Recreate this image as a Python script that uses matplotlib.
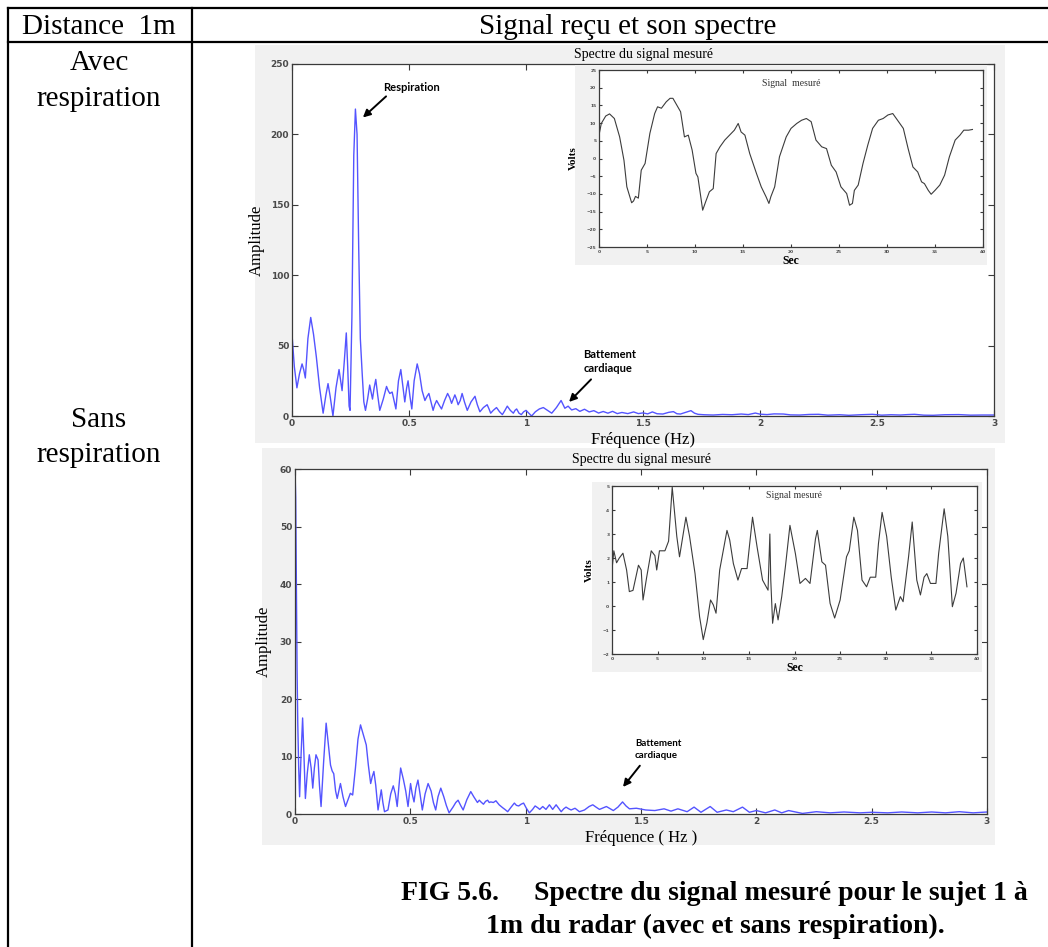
import matplotlib
matplotlib.use("Agg")
import matplotlib.pyplot as plt
from matplotlib.lines import Line2D
from matplotlib.patches import Rectangle

# ---------------------------------------------------------------- data
# Spectrum, with breathing (Hz, amplitude)
freq_avec = [0.000, 0.010, 0.021, 0.032, 0.043, 0.050, 0.057, 0.068, 0.080, 0.092,
             0.104, 0.118, 0.133, 0.145, 0.154, 0.163, 0.175, 0.188, 0.201, 0.208,
             0.214, 0.224, 0.232, 0.238, 0.244, 0.248, 0.256, 0.264, 0.271, 0.278,
             0.285, 0.292, 0.300, 0.307, 0.314, 0.323, 0.332, 0.338, 0.344, 0.351,
             0.358, 0.366, 0.375, 0.390, 0.404, 0.411, 0.418, 0.428, 0.436, 0.444,
             0.455, 0.465, 0.473, 0.482, 0.490, 0.496, 0.504, 0.512, 0.522, 0.535,
             0.545, 0.556, 0.568, 0.577, 0.585, 0.594, 0.603, 0.610, 0.618, 0.628,
             0.639, 0.652, 0.665, 0.674, 0.682, 0.689, 0.696, 0.703, 0.710, 0.719,
             0.727, 0.737, 0.749, 0.765, 0.782, 0.792, 0.803, 0.818, 0.834, 0.842,
             0.849, 0.860, 0.874, 0.887, 0.899, 0.910, 0.920, 0.933, 0.946, 0.953,
             0.960, 0.970, 0.980, 0.990, 1.000, 1.012, 1.024, 1.040, 1.057, 1.074,
             1.092, 1.110, 1.130, 1.150, 1.166, 1.180, 1.195, 1.213, 1.230, 1.250,
             1.270, 1.290, 1.310, 1.330, 1.350, 1.370, 1.390, 1.410, 1.435, 1.460,
             1.480, 1.500, 1.520, 1.540, 1.560, 1.585, 1.610, 1.630, 1.645, 1.660,
             1.680, 1.705, 1.720, 1.735, 1.760, 1.800, 1.840, 1.880, 1.920, 1.950,
             1.980, 2.000, 2.030, 2.060, 2.100, 2.130, 2.170, 2.210, 2.250, 2.290,
             2.340, 2.380, 2.430, 2.480, 2.520, 2.560, 2.600, 2.630, 2.660, 2.700,
             2.740, 2.790, 2.850, 2.900, 2.950, 3.000]
amp_avec = [58, 35, 20, 30, 37, 33, 27, 55, 70, 58,
            42, 20, 2, 15, 23, 14, 0, 20, 33, 25,
            18, 40, 59, 35, 7, 4, 70, 185, 218, 200,
            120, 55, 30, 10, 4, 12, 22, 17, 12, 20,
            26, 15, 4, 12, 21, 18, 16, 17, 11, 5,
            25, 33, 22, 10, 20, 25, 14, 5, 25, 37,
            30, 18, 11, 14, 16, 10, 4, 8, 11, 8,
            5, 11, 16, 13, 9, 12, 15, 12, 8, 11,
            16, 10, 4, 10, 14, 8, 3, 6, 8, 5,
            2, 4, 6, 3, 1, 4, 7, 4, 2, 4,
            5, 2, 1, 3, 4, 2, 0, 3, 5, 6,
            4, 2, 6, 11, 5.5, 7, 4.3, 5.2, 3.3, 4.8,
            2.9, 3.8, 2.1, 3.2, 2.0, 3.3, 1.7, 2.5, 1.7, 2.9,
            1.7, 2.2, 1.5, 2.9, 1.6, 1.4, 2.6, 3.1, 1.6, 1.4,
            2.5, 3.8, 2.0, 1.2, 0.9, 0.7, 1.1, 0.9, 1.4, 1.0,
            2.1, 1.3, 1.0, 1.5, 1.4, 0.8, 0.7, 1.1, 1.2, 0.6,
            0.9, 0.5, 0.9, 1.2, 0.6, 0.9, 0.7, 1.0, 1.2, 0.6,
            0.5, 0.9, 1.0, 0.6, 0.7, 0.7]

# Spectrum, breath held (Hz, amplitude)
freq_sans = [0.000, 0.003, 0.006, 0.009, 0.012, 0.016, 0.020, 0.026, 0.033, 0.039,
             0.045, 0.053, 0.062, 0.070, 0.077, 0.084, 0.091, 0.100, 0.106, 0.113,
             0.124, 0.135, 0.145, 0.154, 0.161, 0.168, 0.176, 0.183, 0.190, 0.197,
             0.208, 0.219, 0.230, 0.240, 0.250, 0.262, 0.273, 0.284, 0.296, 0.309,
             0.318, 0.328, 0.335, 0.342, 0.350, 0.360, 0.367, 0.374, 0.381, 0.388,
             0.403, 0.415, 0.426, 0.435, 0.443, 0.451, 0.458, 0.464, 0.470, 0.480,
             0.490, 0.496, 0.501, 0.508, 0.516, 0.524, 0.533, 0.542, 0.552, 0.564,
             0.577, 0.590, 0.600, 0.610, 0.620, 0.632, 0.645, 0.656, 0.668, 0.685,
             0.697, 0.707, 0.718, 0.729, 0.745, 0.762, 0.775, 0.791, 0.799, 0.806,
             0.817, 0.826, 0.835, 0.842, 0.849, 0.860, 0.871, 0.885, 0.900, 0.910,
             0.922, 0.937, 0.951, 0.960, 0.970, 0.980, 0.991, 1.003, 1.016, 1.030,
             1.041, 1.052, 1.061, 1.074, 1.088, 1.103, 1.117, 1.132, 1.143, 1.154,
             1.165, 1.175, 1.187, 1.197, 1.214, 1.233, 1.255, 1.275, 1.291, 1.305,
             1.320, 1.350, 1.380, 1.400, 1.420, 1.435, 1.450, 1.480, 1.520, 1.560,
             1.600, 1.630, 1.660, 1.700, 1.730, 1.760, 1.800, 1.830, 1.870, 1.900,
             1.940, 1.970, 2.000, 2.040, 2.080, 2.110, 2.140, 2.200, 2.260, 2.320,
             2.380, 2.450, 2.500, 2.570, 2.630, 2.700, 2.760, 2.820, 2.880, 2.940,
             3.000]
amp_sans = [60, 55, 39, 25, 15.8, 8, 3, 10, 16.7, 10,
            2.7, 7, 10.3, 8, 4.5, 8, 10.3, 9.4, 5, 1.3,
            9, 15.8, 12, 8.5, 7.5, 7, 4, 2.7, 4, 5.3,
            3, 1.3, 2.5, 3.6, 3.3, 8, 13, 15.5, 13.8, 12,
            8.5, 5.3, 6.5, 7.4, 5, 0.7, 2.5, 4.2, 2, 0.4,
            0.7, 3.5, 4.9, 3.5, 1.3, 5, 8, 7, 6, 4,
            1.3, 3.5, 5.3, 3.5, 2.1, 4.5, 5.9, 3.5, 0.7, 3.5,
            5.3, 4, 2, 0.7, 3, 4.5, 3, 1.5, 0.2, 1.2,
            2, 2.4, 1.5, 0.7, 2.5, 3.9, 3, 2, 2.4, 2.1,
            1.7, 2.2, 2.4, 2.0, 2.1, 2.0, 2.3, 1.6, 1.1, 0.8,
            0.4, 1.2, 1.9, 1.5, 1.4, 1.7, 1.9, 1.0, 0.2, 0.8,
            1.4, 1.1, 0.8, 1.3, 0.8, 1.6, 0.8, 1.6, 1.0, 0.4,
            0.9, 1.2, 0.9, 0.7, 1.0, 0.4, 0.7, 1.3, 1.6, 1.2,
            0.8, 1.3, 0.6, 1.2, 2.1, 1.4, 0.9, 1.0, 0.7, 0.6,
            0.9, 0.5, 0.9, 0.4, 1.2, 0.3, 1.3, 0.3, 0.7, 0.4,
            1.2, 0.3, 0.6, 0.2, 0.7, 0.2, 0.6, 0.1, 0.4, 0.2,
            0.35, 0.2, 0.3, 0.2, 0.35, 0.2, 0.35, 0.2, 0.4, 0.2,
            0.35]

# Time signal, with breathing (s, V)
t_avec = [0.0, 0.24, 0.7, 1.1, 1.6, 2.15, 2.6, 2.9, 3.4, 3.6,
          3.8, 4.1, 4.4, 4.8, 5.3, 5.8, 6.1, 6.5, 7.0, 7.4,
          7.7, 8.1, 8.5, 8.9, 9.3, 9.7, 10.1, 10.3, 10.6, 10.8,
          11.1, 11.5, 11.9, 12.2, 12.6, 13.1, 13.6, 14.1, 14.5, 14.8,
          15.2, 15.7, 16.4, 16.9, 17.4, 17.7, 17.9, 18.3, 18.8, 19.5,
          20.0, 20.6, 21.1, 21.6, 22.1, 22.6, 23.2, 23.7, 24.2, 24.7,
          25.2, 25.8, 26.1, 26.4, 26.6, 27.0, 27.5, 28.0, 28.5, 29.1,
          29.6, 30.1, 30.6, 31.1, 31.7, 32.2, 32.7, 33.2, 33.6, 33.9,
          34.3, 34.6, 35.0, 35.5, 36.0, 36.5, 37.1, 37.6, 38.0, 38.5,
          38.9]
v_avec = [6.6, 9.9, 12.0, 12.6, 11.3, 6.1, -0.5, -8.0, -12.5, -12.0,
          -10.7, -11.2, -3.3, -1.4, 7.1, 12.7, 14.6, 14.2, 16.0, 17.0,
          17.0, 15.1, 13.2, 6.1, 6.6, 2.4, -4.2, -5.2, -10.8, -14.6,
          -12.3, -9.4, -8.5, 1.4, 3.3, 5.2, 6.6, 8.0, 9.9, 7.5,
          6.6, 1.4, -4.2, -8.0, -10.8, -12.7, -10.8, -8.0, 0.5, 6.1,
          8.5, 9.9, 10.8, 11.3, 10.4, 5.2, 3.3, 2.8, -1.9, -3.8,
          -8.0, -9.9, -13.2, -12.7, -9.0, -7.5, -1.4, 3.8, 8.5, 10.8,
          11.3, 12.3, 12.7, 10.8, 8.5, 2.8, -2.4, -3.8, -6.6, -7.1,
          -9.0, -10.1, -9.0, -7.5, -4.7, 0.5, 5.2, 6.6, 8.0, 8.0,
          8.2]

# Time signal, breath held (s, V)
t_sans = [0.0, 0.2, 0.5, 0.8, 1.2, 1.6, 1.9, 2.3, 2.9, 3.2,
          3.4, 3.8, 4.3, 4.7, 4.9, 5.2, 5.8, 6.2, 6.6, 7.1,
          7.4, 8.1, 8.5, 9.1, 9.6, 10.0, 10.4, 10.8, 11.1, 11.4,
          11.8, 12.6, 12.9, 13.3, 13.8, 14.2, 14.8, 15.4, 15.9, 16.5,
          17.1, 17.3, 17.4, 17.6, 17.9, 18.2, 18.6, 19.0, 19.5, 20.1,
          20.6, 21.2, 21.7, 22.3, 22.5, 23.0, 23.4, 23.9, 24.4, 25.0,
          25.7, 26.0, 26.5, 26.9, 27.4, 27.9, 28.3, 28.9, 29.2, 29.6,
          30.1, 30.6, 31.1, 31.6, 31.9, 32.5, 32.9, 33.4, 33.8, 34.2,
          34.5, 34.9, 35.5, 35.8, 36.4, 36.8, 37.3, 37.7, 38.2, 38.5,
          38.9]
v_sans = [1.5, 2.3, 1.8, 2.0, 2.2, 1.5, 0.6, 0.65, 1.7, 1.5,
          0.25, 1.2, 2.3, 2.1, 1.5, 2.3, 2.3, 2.7, 4.95, 2.9,
          2.05, 3.7, 2.9, 1.35, -0.45, -1.4, -0.7, 0.25, 0.05, -0.3,
          1.5, 3.15, 2.75, 1.77, 1.08, 1.56, 1.56, 3.7, 2.46, 1.08,
          0.66, 3.0, 1.08, -0.72, 0.1, -0.58, 0.39, 1.63, 3.36, 2.18,
          0.94, 1.15, 0.94, 2.8, 3.15, 1.84, 1.7, 0.11, -0.5, 0.25,
          2.05, 2.3, 3.7, 3.15, 1.08, 0.8, 1.2, 1.2, 2.6, 3.9,
          2.9, 1.2, -0.17, 0.39, 0.18, 2.05, 3.5, 1.08, 0.46, 1.2,
          1.35, 0.94, 0.94, 2.2, 4.05, 2.9, -0.03, 0.53, 1.77, 2.0,
          0.8]

freq_ticks = [0, 0.5, 1, 1.5, 2, 2.5, 3]
freq_labels = ["0", "0.5", "1", "1.5", "2", "2.5", "3"]
amp_ticks_avec = [0, 50, 100, 150, 200, 250]
amp_ticks_sans = [0, 10, 20, 30, 40, 50, 60]
sec_ticks = [0, 5, 10, 15, 20, 25, 30, 35, 40]
volt_ticks_avec = [-25, -20, -15, -10, -5, 0, 5, 10, 15, 20, 25]
volt_ticks_sans = [-2, -1, 0, 1, 2, 3, 4, 5]

# ---------------------------------------------------------------- layout helpers
W, H = 1048, 947
fig = plt.figure(figsize=(W / 100, H / 100), dpi=100)
fig.patch.set_facecolor("white")

SERIF = "Liberation Serif"
SPEC_BLUE = "#5454ff"
PANEL = "#f1f1f1"


def rect(x0, y0, x1, y1):
    return [x0 / W, 1 - y1 / H, (x1 - x0) / W, (y1 - y0) / H]


def fx(x):
    return x / W


def fy(y):
    return 1 - y / H


def panel(x0, y0, x1, y1, z):
    fig.add_artist(Rectangle((x0 / W, 1 - y1 / H), (x1 - x0) / W, (y1 - y0) / H,
                             transform=fig.transFigure, fc=PANEL, ec="none", zorder=z))


def hline(y, x0, x1, lw=1.6):
    fig.add_artist(Line2D([fx(x0), fx(x1)], [fy(y), fy(y)], color="black", lw=lw))


def vline(x, y0, y1, lw=1.6):
    fig.add_artist(Line2D([fx(x), fx(x)], [fy(y0), fy(y1)], color="black", lw=lw))


def style_axes(ax, labelsize, ticklen):
    for s in ax.spines.values():
        s.set_color("#3a3a3a")
        s.set_linewidth(0.9)
    ax.tick_params(direction="in", top=True, right=True, length=ticklen, width=0.8,
                   labelsize=labelsize, labelcolor="#4a4a4a", color="#3a3a3a", pad=2)
    for lab in ax.get_xticklabels() + ax.get_yticklabels():
        lab.set_fontweight("bold")


def arrow(ax, tail, tip):
    ax.annotate("", xy=tip, xytext=tail,
                arrowprops=dict(arrowstyle="-|>", color="black", lw=1.4,
                                mutation_scale=11, shrinkA=0, shrinkB=0))


def note(ax, pos, text, size):
    ax.text(pos[0], pos[1], text, fontsize=size, family="Lato", fontweight="bold",
            ha="left", va="center", linespacing=1.35)


# ---------------------------------------------------------------- table frame
hline(8, 8, 1048)
hline(42, 8, 1048)
vline(8, 8, 947)
vline(192, 8, 947)

fig.text(fx(99), fy(27), "Distance  1m", family=SERIF, fontsize=21, ha="center", va="center")
fig.text(fx(628), fy(27), "Signal reçu et son spectre", family=SERIF, fontsize=21,
         ha="center", va="center")
fig.text(fx(99), fy(81), "Avec\nrespiration", family=SERIF, fontsize=21, ha="center",
         va="center", linespacing=1.45)
fig.text(fx(99), fy(437), "Sans\nrespiration", family=SERIF, fontsize=21, ha="center",
         va="center", linespacing=1.45)

fig.text(fx(714), fy(893), "FIG 5.6.     Spectre du signal mesuré pour le sujet 1 à",
         family=SERIF, fontsize=20, fontweight="bold", ha="center", va="center")
fig.text(fx(715), fy(926), "1m du radar (avec et sans respiration).",
         family=SERIF, fontsize=20, fontweight="bold", ha="center", va="center")

# ---------------------------------------------------------------- grey figure panels
# outer panels sit under the spectrum axes, inset panels between spectrum and inset axes
panel(255, 45, 1005, 443, -5)
panel(262, 448, 995, 845, -5)
panel(575, 65, 987, 265, 1)
panel(592, 482, 982, 672, 1)

# ---------------------------------------------------------------- top spectrum
ax1 = fig.add_axes(rect(292, 64, 994, 416))
ax1.set_zorder(0)
ax1.plot(freq_avec, amp_avec, color=SPEC_BLUE, lw=1.0)
ax1.set_xlim(0, 3)
ax1.set_ylim(0, 250)
ax1.set_xticks(freq_ticks, freq_labels)
ax1.set_yticks(amp_ticks_avec)
style_axes(ax1, 6.5, 4)
ax1.set_ylabel("Amplitude", family=SERIF, fontsize=12, labelpad=4)
ax1.set_xlabel("Fréquence (Hz)", family=SERIF, fontsize=12, labelpad=3)
ax1.set_title("Spectre du signal mesuré", family=SERIF, fontsize=10, pad=4)
note(ax1, (0.39, 233), "Respiration", 8)
arrow(ax1, (0.402, 227), (0.303, 212))
note(ax1, (1.245, 39), "Battement\ncardiaque", 8)
arrow(ax1, (1.278, 26), (1.184, 10))

# ---------------------------------------------------------------- top inset signal
ax2 = fig.add_axes(rect(599, 70, 983, 247))
ax2.set_zorder(2)
ax2.plot(t_avec, v_avec, color="#3c3c3c", lw=0.8)
ax2.set_xlim(0, 40)
ax2.set_ylim(-25, 25)
ax2.set_xticks(sec_ticks)
ax2.set_yticks(volt_ticks_avec)
style_axes(ax2, 3.2, 2)
ax2.set_ylabel("Volts", family=SERIF, fontsize=8, fontweight="bold", labelpad=6)
ax2.set_xlabel("Sec", family=SERIF, fontsize=8.5, fontweight="bold", labelpad=1)
ax2.text(0.5, 0.95, "Signal  mesuré", transform=ax2.transAxes, family=SERIF,
         fontsize=7, ha="center", va="top", color="#333333")

# ---------------------------------------------------------------- bottom spectrum
ax3 = fig.add_axes(rect(295, 469, 987, 814))
ax3.set_zorder(0)
ax3.plot(freq_sans, amp_sans, color=SPEC_BLUE, lw=1.0)
ax3.set_xlim(0, 3)
ax3.set_ylim(0, 60)
ax3.set_xticks(freq_ticks, freq_labels)
ax3.set_yticks(amp_ticks_sans)
style_axes(ax3, 6.5, 4)
ax3.set_ylabel("Amplitude", family=SERIF, fontsize=12, labelpad=6)
ax3.set_xlabel("Fréquence ( Hz )", family=SERIF, fontsize=12, labelpad=3)
ax3.set_title("Spectre du signal mesuré", family=SERIF, fontsize=10, pad=4)
note(ax3, (1.474, 11.2), "Battement\ncardiaque", 7)
arrow(ax3, (1.495, 8.4), (1.422, 4.7))

# ---------------------------------------------------------------- bottom inset signal
ax4 = fig.add_axes(rect(612, 486, 977, 654))
ax4.set_zorder(2)
ax4.plot(t_sans, v_sans, color="#3c3c3c", lw=0.8)
ax4.set_xlim(0, 40)
ax4.set_ylim(-2, 5)
ax4.set_xticks(sec_ticks)
ax4.set_yticks(volt_ticks_sans)
style_axes(ax4, 3.2, 2)
ax4.set_ylabel("Volts", family=SERIF, fontsize=8, fontweight="bold", labelpad=6)
ax4.set_xlabel("Sec", family=SERIF, fontsize=8.5, fontweight="bold", labelpad=1)
ax4.text(0.5, 0.97, "Signal mesuré", transform=ax4.transAxes, family=SERIF,
         fontsize=7, ha="center", va="top", color="#333333")

fig.savefig("out.png", dpi=100)
